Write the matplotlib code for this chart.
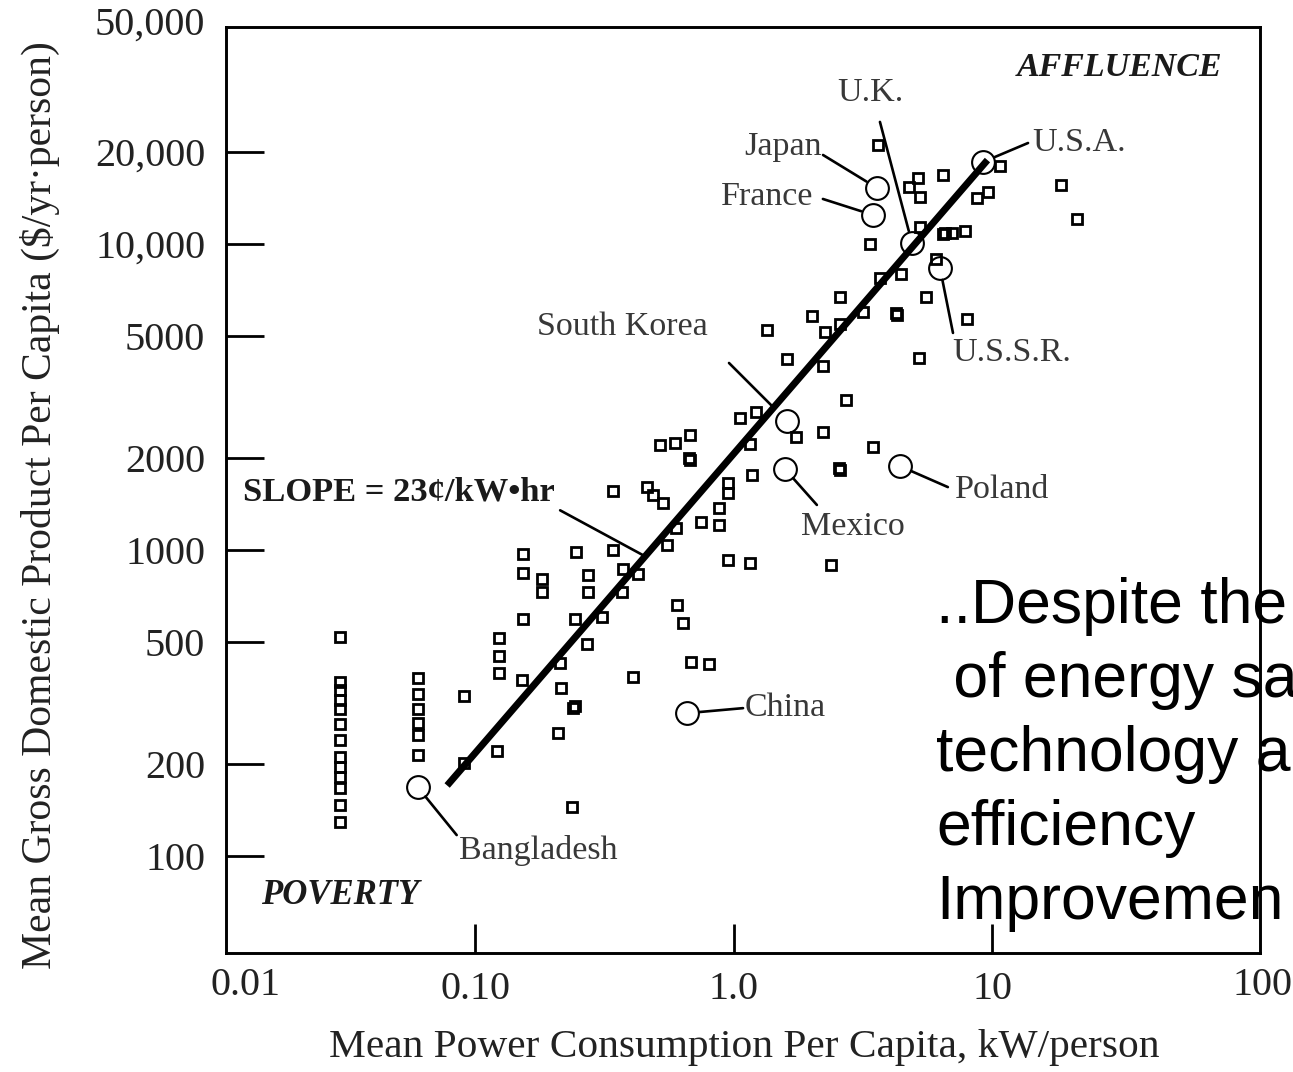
"""Log-log scatter: GDP per capita vs power consumption per capita."""
import numpy as np
import matplotlib
matplotlib.use("Agg")
import matplotlib.pyplot as plt

W, H = 1293, 1072
plt.rcParams["font.family"] = ["Liberation Serif", "DejaVu Serif"]

# unlabelled countries (square markers): kW/person, $/yr.person
sq_x = [0.03] * 13 + [0.06] * 6 + [
    0.091, 0.091, 0.122, 0.153, 0.153, 0.182, 0.182, 0.246, 0.342, 0.274,
    0.274, 0.374, 0.427, 0.370, 0.153, 0.244, 0.310, 0.271, 0.124, 0.124,
    0.124, 0.152, 0.213, 0.215, 0.239, 0.243, 0.209, 0.409, 0.237, 0.604,
    0.638, 0.685, 0.804, 0.519, 0.594, 0.679, 0.679, 0.674, 0.342, 0.463,
    0.488, 0.534, 0.599, 0.553, 0.748, 0.879, 0.879, 0.952, 0.952, 1.18,
    1.16, 1.06, 1.22, 1.74, 2.22, 2.72, 3.46, 2.58, 2.56, 0.952,
    1.16, 2.38, 1.35, 1.61, 2.22, 2.01, 2.26, 2.58, 2.58, 3.17,
    4.29, 4.25, 3.69, 4.44, 5.55, 5.22, 8.0, 3.37, 6.07, 5.27,
    6.46, 6.6, 7.0, 7.86, 5.17, 4.77, 5.27, 6.46, 3.62, 10.7,
    8.74, 9.65, 18.5, 21.3]
sq_y = [520, 370, 349, 323, 302, 270, 239, 211, 195, 181, 167, 147, 129,
        382, 338, 302, 272, 249, 214] + [
    333, 201, 220, 970, 841, 804, 729, 985, 1000, 829,
    729, 867, 835, 729, 595, 595, 604, 493, 516, 450,
    396, 376, 427, 354, 305, 309, 252, 385, 145, 661,
    577, 431, 424, 2200, 2240, 2380, 1970, 2000, 1560, 1610,
    1510, 1420, 1180, 1040, 1235, 1370, 1210, 1660, 1540, 1760,
    2220, 2700, 2830, 2340, 2430, 3090, 2170, 1830, 1850, 927,
    907, 893, 5240, 4210, 3990, 5820, 5160, 6710, 5480, 6000,
    5860, 5950, 7740, 7980, 6710, 4240, 5690, 10000, 8930, 11370,
    10780, 10900, 10870, 11030, 16440, 15360, 14240, 16810, 21060, 17980,
    14140, 14790, 15590, 12070]

# labelled countries (circle markers)
names = ["Bangladesh", "China", "Mexico", "Poland", "South Korea",
         "U.S.S.R.", "U.K.", "Japan", "France", "U.S.A."]
cx = [0.060, 0.661, 1.58, 4.40, 1.61, 6.29, 4.90, 3.59, 3.46, 9.23]
cy = [168, 293, 1840, 1880, 2640, 8350, 10080, 15240, 12440, 18530]

# fitted line, slope = 23 cents / kWh
fit_x = [0.078, 9.6]
fit_y = [170, 18800]

xticks = [0.1, 1, 10]
xtick_labels = ["0.10", "1.0", "10"]
yticks = [100, 200, 500, 1000, 2000, 5000, 10000, 20000]
ytick_labels = ["100", "200", "500", "1000", "2000", "5000", "10,000", "20,000"]

fig = plt.figure(figsize=(W / 100, H / 100), dpi=100)
ax = fig.add_axes([226 / W, 1 - 953 / H, 1034 / W, 926 / H])
ax.set_xscale("log"); ax.set_yscale("log")
ax.set_xlim(0.01088, 108.8); ax.set_ylim(48.2, 51170)
ax.minorticks_off()
ax.set_xticks(xticks, xtick_labels)
ax.set_yticks(yticks, ytick_labels)
ax.tick_params(axis="both", direction="in", width=2, color="black",
               labelsize=29, labelcolor="#222222")
ax.tick_params(axis="x", length=21, pad=13)
ax.tick_params(axis="y", length=27, pad=15)
for s in ax.spines.values():
    s.set_linewidth(2.1)

# corner labels that sit off the tick positions
ax.text(0.0184, -0.0346, "0.01", transform=ax.transAxes, fontsize=29, color="#222222",
        ha="center", va="center", clip_on=False)
ax.text(1.002, -0.0346, "100", transform=ax.transAxes, fontsize=29, color="#222222",
        ha="center", va="center", clip_on=False)
ax.text(-0.0203, 1.0022, "50,000", transform=ax.transAxes, fontsize=29, color="#222222",
        ha="right", va="center", clip_on=False)

ax.plot(sq_x, sq_y, "s", ms=7.8, mfc="none", mec="black", mew=2.0, zorder=3)
ax.plot(fit_x, fit_y, "-", color="black", lw=5, solid_capstyle="butt", zorder=4)
ax.plot(cx, cy, "o", ms=16.4, mfc="none", mec="black", mew=1.5, zorder=5)

# leader line end (pixels from circle), label offset, alignment, shrink at circle
leaders = {
    "Bangladesh": ((39, -48), (41, -63), "left", 8.8),
    "China": ((56, 5), (58, 5), "left", 8.8),
    "Mexico": ((32, -36), (68, -58), "center", 8.8),
    "Poland": ((48, -21), (55, -24), "left", 8.8),
    "South Korea": ((-58, 58), (-79, 94), "right", 15),
    "U.S.S.R.": ((13, -65), (12, -85), "left", 8.8),
    "U.K.": ((-32, 121), (-42, 150), "center", 8.8),
    "Japan": ((-54, 33), (-55, 41), "right", 8.8),
    "France": ((-50, 16), (-60, 18), "right", 8.8),
    "U.S.A.": ((45, 19), (49, 19), "left", 8.8),
}
for n, x, y in zip(names, cx, cy):
    end, off, ha, shr = leaders[n]
    ax.annotate("", xy=(x, y), xytext=end, textcoords="offset pixels",
                arrowprops=dict(arrowstyle="-", lw=1.9, color="black",
                                shrinkA=0, shrinkB=shr), zorder=5)
    ax.annotate(n, xy=(x, y), xytext=off, textcoords="offset pixels",
                ha=ha, va="center", fontsize=24.5, color="#383838", zorder=5)

# slope callout pointing at the fitted line
lx = np.log10(fit_x); ly = np.log10(fit_y)
px = 0.455
py = 10 ** np.interp(np.log10(px), lx, ly)
ax.annotate("", xy=(px, py), xytext=(-85, 46), textcoords="offset pixels",
            arrowprops=dict(arrowstyle="-", lw=1.9, color="black", shrinkA=0, shrinkB=0))
ax.text(0.0164, 0.4978, "SLOPE = 23¢/kW•hr", transform=ax.transAxes, fontsize=24.8,
        fontweight="bold", color="#1a1a1a", ha="left", va="center")
ax.text(0.9632, 0.9568, "AFFLUENCE", transform=ax.transAxes, fontsize=24.5,
        fontweight="bold", style="italic", color="#1a1a1a", ha="right", va="center")
ax.text(0.0338, 0.0626, "POVERTY", transform=ax.transAxes, fontsize=25,
        fontweight="bold", style="italic", color="#1a1a1a", ha="left", va="center")

fig.text(744 / W, 1 - 1048 / H, "Mean Power Consumption Per Capita, kW/person",
         fontsize=29.8, color="#222222", ha="center", va="center")
fig.text(40 / W, 1 - 505 / H, "Mean Gross Domestic Product Per Capita ($/yr·person)",
         fontsize=30, color="#222222", ha="center", va="center", rotation=90)

# overlay note, drawn under the frame so the spine shows through it
note = ["..Despite the", " of energy sa", "technology a", "efficiency", "Improvemen"]
for i, line in enumerate(note):
    ax.text(936 / W, 1 - (623 + 74 * i) / H, line, transform=fig.transFigure,
            fontsize=45, family=["Liberation Sans", "DejaVu Sans"], color="black",
            ha="left", va="baseline", zorder=1, clip_on=False)

fig.savefig("out.png", dpi=100)
